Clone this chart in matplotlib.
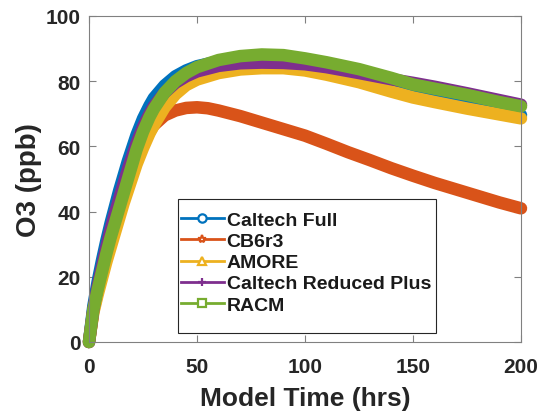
import matplotlib
matplotlib.use("Agg")
import matplotlib.pyplot as plt
from matplotlib.lines import Line2D
from matplotlib.patches import Rectangle

plt.rcParams['font.family'] = ['Liberation Sans', 'DejaVu Sans']
plt.rcParams['font.weight'] = 'bold'

labels = ["Caltech Full", "CB6r3", "AMORE", "Caltech Reduced Plus", "RACM"]
colors = ["#0072BD", "#D95319", "#EDB120", "#7E2F8E", "#77AC30"]
markers = ["o", "*", "^", "+", "s"]

t_blue = [0, 2, 4, 6, 8, 10, 12, 14, 16, 18, 20, 22, 25, 28, 30, 35, 40, 45, 50, 60, 70, 80, 90, 100, 110, 125, 140, 150, 160, 175, 190, 200]
caltech_full = [0, 11, 18.5, 25, 31, 36.5, 41.5, 46.5, 51, 55.5, 59.5, 63.5, 68.5, 72.5, 74.8, 78.7, 81.5, 83.3, 84.6, 86.1, 86.8, 87, 86.8, 86.2, 85, 82.8, 80, 78.4, 76.8, 74.2, 71.3, 69.6]

t_orange = [0, 2, 4, 6, 8, 10, 12, 14, 16, 18, 20, 22, 25, 28, 30, 35, 40, 45, 50, 55, 60, 70, 80, 90, 100, 110, 120, 130, 140, 150, 160, 170, 180, 190, 200]
cb6r3 = [0, 9.5, 15.5, 21, 26.5, 31.5, 36, 40.5, 45, 49, 53, 56.5, 61, 64.5, 66.5, 69.5, 71, 71.8, 72, 71.7, 71, 69.3, 67.3, 65.3, 63.3, 60.8, 58.2, 55.8, 53.3, 51, 48.8, 46.8, 44.8, 42.8, 41]

t_yellow = [0, 2, 4, 6, 8, 10, 12, 14, 16, 18, 20, 22, 25, 28, 30, 35, 40, 45, 50, 60, 70, 80, 90, 100, 110, 125, 140, 150, 160, 175, 190, 200]
amore = [0, 9, 14.5, 19.5, 24.5, 29, 33.5, 38, 42.5, 46.5, 50.5, 54.5, 59.5, 64, 66.5, 72, 76, 78.8, 80.5, 82.5, 83.6, 84, 84, 83.3, 82, 79.7, 76.8, 75, 73.6, 71.6, 69.8, 68.6]

t_purple = [0, 2, 4, 6, 8, 10, 12, 14, 16, 18, 20, 22, 25, 28, 30, 35, 40, 45, 50, 60, 70, 80, 90, 100, 110, 125, 140, 150, 160, 175, 190, 200]
caltech_reduced_plus = [0, 10, 17, 23, 29, 34.5, 39.5, 44, 48.5, 53, 57, 61, 66, 70, 72.3, 76.5, 79.5, 81.5, 83, 84.7, 85.5, 85.7, 85.6, 85.2, 84.3, 82.5, 80.6, 79.5, 78.3, 76.3, 74.2, 72.8]

t_green = [0, 1, 2, 4, 6, 8, 10, 12, 14, 16, 18, 20, 22, 25, 28, 30, 35, 40, 45, 50, 60, 70, 80, 90, 100, 110, 125, 140, 150, 160, 175, 190, 200]
racm = [0, 5, 10, 16, 21.5, 27, 32, 36.5, 41, 45.5, 50, 54.5, 59, 64.5, 69, 71.5, 76.5, 80, 82.5, 84.3, 86.5, 87.7, 88.2, 88, 87, 85.8, 83.7, 81, 79, 77.7, 75.8, 73.6, 72.3]

series = [(t_blue, caltech_full), (t_orange, cb6r3), (t_yellow, amore),
          (t_purple, caltech_reduced_plus), (t_green, racm)]

W, H = 547, 414
fig = plt.figure(figsize=(W / 100, H / 100), dpi=100)
ax = fig.add_axes([89 / W, 1 - 343 / H, (521 - 89) / W, (343 - 17) / H])

for (t, v), c, m in zip(series, colors, markers):
    ax.plot(t, v, color=c, lw=9, solid_capstyle='round', solid_joinstyle='round',
            marker=m, ms=5, mfc=c, mec=c, mew=1.2, clip_on=False)

ax.set_xlim(0, 200)
ax.set_ylim(0, 100)
ax.set_xticks([0, 50, 100, 150, 200])
ax.set_yticks([0, 20, 40, 60, 80, 100])
ax.tick_params(direction='in', length=5, width=0.8, color='#808080',
               top=True, right=True, labelsize=15, labelcolor='#262626')
ax.tick_params(axis='x', pad=11)
ax.tick_params(axis='y', pad=6)
for lbl in ax.get_xticklabels() + ax.get_yticklabels():
    lbl.set_fontweight('bold')
for s in ax.spines.values():
    s.set_color('#808080')
    s.set_linewidth(0.8)

ax.set_xlabel("Model Time (hrs)", fontsize=19, fontweight='bold', color='#262626', labelpad=7)
ax.set_ylabel("O3 (ppb)", fontsize=20, fontweight='bold', color='#262626', labelpad=3)

# legend frame drawn manually (MATLAB-style)
fig.patches.append(Rectangle((178 / W, 1 - 334 / H), (436 - 178) / W, (334 - 200) / H,
                             transform=fig.transFigure, facecolor='white',
                             edgecolor='#262626', lw=0.8, zorder=5))
handles = [Line2D([0], [0], color=c, lw=2, marker=m, ms=6, mfc='white', mec=c, mew=1.6)
           for c, m in zip(colors, markers)]
leg = fig.legend(handles, labels, loc='upper left', bbox_to_anchor=(181 / W, 1 - 212.5 / H),
                 borderaxespad=0, borderpad=0, fontsize=14, handlelength=2.2,
                 handletextpad=0.15, labelspacing=0.18, frameon=False)
leg.set_zorder(6)
for txt in leg.get_texts():
    txt.set_fontweight('bold')
    txt.set_color('#1a1a1a')

fig.savefig("out.png", dpi=100)
